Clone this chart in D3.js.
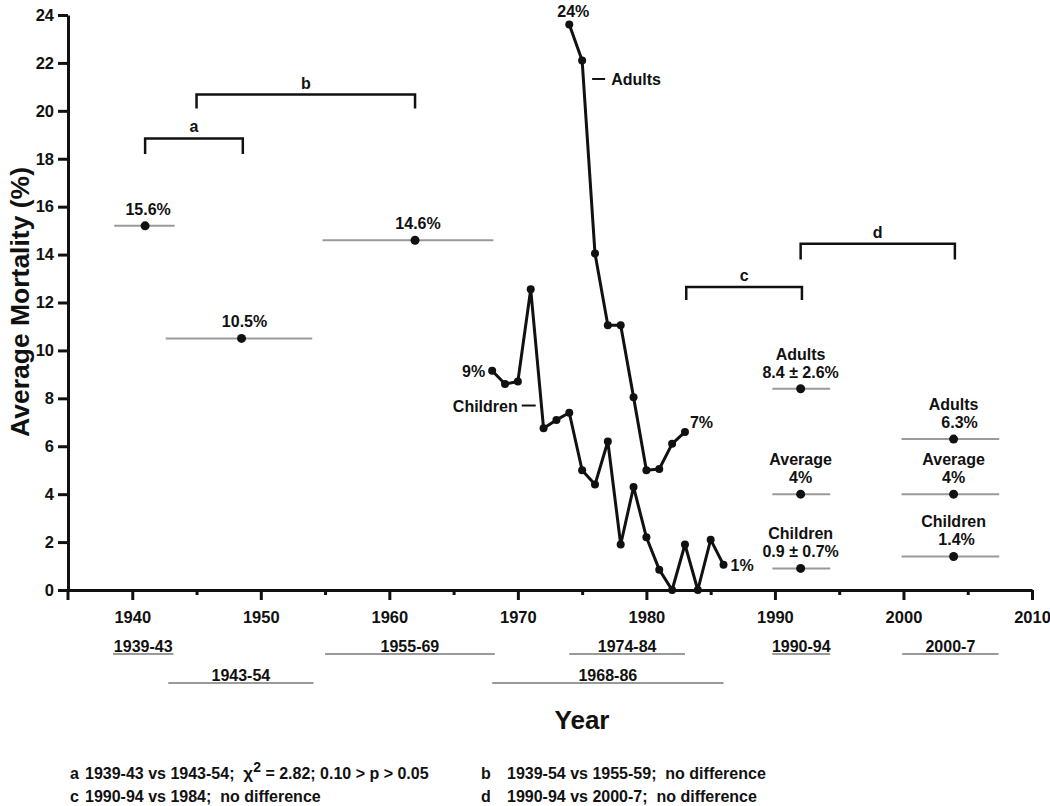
<!DOCTYPE html>
<html>
<head>
<meta charset="utf-8">
<script src="https://cdn.jsdelivr.net/npm/d3@7"></script>
<style>
  html, body { margin: 0; padding: 0; background: #fff; }
  svg { display: block; font-family: "Liberation Sans", Arial, Helvetica, sans-serif; font-weight: bold; }
</style>
</head>
<body>
<svg id="chart" width="1050" height="806"></svg>
<script>
// ---------- DATA ----------
const adultYears  = [1974, 1975, 1976, 1977, 1978, 1979, 1980, 1981, 1982, 1983];
const adultValues = [23.6, 22.1, 14.05, 11.05, 11.05, 8.05, 5.0, 5.05, 6.1, 6.6];

const childYears  = [1968, 1969, 1970, 1971, 1972, 1973, 1974, 1975, 1976, 1977, 1978, 1979, 1980, 1981, 1982, 1983, 1984, 1985, 1986];
const childValues = [9.15, 8.6, 8.7, 12.55, 6.75, 7.1, 7.4, 5.0, 4.4, 6.2, 1.9, 4.3, 2.2, 0.85, 0, 1.9, 0, 2.1, 1.05];

// early period means
const meanYears  = [1941, 1948.5, 1962];
const meanValues = [15.2, 10.5, 14.6];
const meanStart  = [1938.6, 1942.6, 1954.8];
const meanEnd    = [1943.3, 1954.0, 1968.1];
const meanLabels = ["15.6%", "10.5%", "14.6%"];

// recent period groups
const groupNames      = ["Adults", "Average", "Children"];
const p9094Year       = 1992;
const p9094Span       = [1989.8, 1994.3];
const p9094Values     = [8.4, 4.0, 0.9];
const p9094Labels     = ["8.4 \u00B1 2.6%", "4%", "0.9 \u00B1 0.7%"];
const p0007Year       = 2003.9;
const p0007Span       = [1999.85, 2007.45];
const p0007Values     = [6.3, 4.0, 1.4];
const p0007Labels     = ["6.3%", "4%", "1.4%"];

// period bars under the axis
const periodLabels = ["1939-43", "1943-54", "1955-69", "1968-86", "1974-84", "1990-94", "2000-7"];
const periodStart  = [1938.5, 1942.8, 1955.0, 1968.0, 1974.0, 1989.8, 1999.9];
const periodEnd    = [1943.2, 1954.1, 1968.2, 1986.0, 1983.0, 1994.3, 2007.4];
const periodRow    = [0, 1, 0, 1, 0, 0, 0];

// comparison brackets
const bracketNames = ["a", "b", "c", "d"];
const bracketFrom  = [1941, 1945, 1983.1, 1992];
const bracketTo    = [1948.6, 1962, 1992.1, 2004];
const bracketTop   = [18.85, 20.68, 12.65, 14.45];
const bracketFoot  = [18.2, 20.1, 12.1, 13.8];

// axis ticks
const yTicks      = [0, 2, 4, 6, 8, 10, 12, 14, 16, 18, 20, 22, 24];
const xMajorTicks = [1940, 1950, 1960, 1970, 1980, 1990, 2000, 2010];
const xMinorTicks = [1945, 1955, 1965, 1975, 1985, 1995, 2005];

// footnotes
const footnotes = [
  {key: "a", parts: ["1939-43 vs 1943-54;  ", "\u03C7", "2", " = 2.82; 0.10 > p > 0.05"]},
  {key: "b", parts: ["1939-54 vs 1955-59;  no difference"]},
  {key: "c", parts: ["1990-94 vs 1984;  no difference"]},
  {key: "d", parts: ["1990-94 vs 2000-7;  no difference"]}
];

// ---------- DRAW ----------
const svg = d3.select("#chart");
const ink = "#111";
const grey = "#9a9a9a";
const FONT = "'Liberation Sans', Arial, sans-serif";

const x = d3.scaleLinear().domain([1935, 2010]).range([68, 1032]);
const y = d3.scaleLinear().domain([0, 24]).range([590, 15]);

// Y axis
const yAxis = svg.append("g").attr("transform", `translate(${x(1935)},0)`)
  .call(d3.axisLeft(y).tickValues(yTicks).tickSize(10).tickSizeOuter(0).tickPadding(4));
yAxis.select(".domain").attr("stroke", ink).attr("stroke-width", 3);
yAxis.selectAll(".tick line").attr("stroke", ink).attr("stroke-width", 3);
yAxis.selectAll(".tick text").attr("fill", ink).style("font-size", "16.5px").style("font-weight", "bold")
  .style("font-family", FONT);

// X axis
const xAxis = svg.append("g").attr("transform", `translate(0,${y(0)})`)
  .call(d3.axisBottom(x).tickValues(xMajorTicks).tickFormat(d3.format("d")).tickSize(10).tickSizeOuter(0).tickPadding(11));
xAxis.select(".domain").attr("stroke", ink).attr("stroke-width", 3);
xAxis.selectAll(".tick line").attr("stroke", ink).attr("stroke-width", 3);
xAxis.selectAll(".tick text").attr("fill", ink).style("font-size", "16.5px").style("font-weight", "bold")
  .style("font-family", FONT);
const xMinor = svg.append("g").attr("transform", `translate(0,${y(0)})`)
  .call(d3.axisBottom(x).tickValues(xMinorTicks).tickFormat("").tickSize(5).tickSizeOuter(0));
xMinor.select(".domain").remove();
xMinor.selectAll(".tick line").attr("stroke", ink).attr("stroke-width", 3);
// extension of y axis below the x axis
svg.append("line").attr("x1", x(1935)).attr("x2", x(1935)).attr("y1", y(0)).attr("y2", y(0) + 10)
  .attr("stroke", ink).attr("stroke-width", 3);

// Axis titles
svg.append("text").attr("x", 582).attr("y", 729).attr("text-anchor", "middle")
  .style("font-size", "26px").attr("fill", ink).text("Year");
svg.append("text").attr("transform", "translate(29,302) rotate(-90)").attr("text-anchor", "middle")
  .style("font-size", "26.5px").attr("fill", ink).text("Average Mortality (%)");

// Early period means
meanYears.forEach((yr, i) => {
  svg.append("line").attr("x1", x(meanStart[i])).attr("x2", x(meanEnd[i]))
    .attr("y1", y(meanValues[i])).attr("y2", y(meanValues[i]))
    .attr("stroke", grey).attr("stroke-width", 2);
  svg.append("circle").attr("cx", x(yr)).attr("cy", y(meanValues[i])).attr("r", 4.5).attr("fill", ink);
  svg.append("text").attr("x", x(yr) + 3).attr("y", y(meanValues[i]) - 11).attr("text-anchor", "middle")
    .style("font-size", "16px").attr("fill", ink).text(meanLabels[i]);
});

// Recent period groups
function drawGroup(yr, span, values, labels, dx) {
  values.forEach((v, i) => {
    svg.append("line").attr("x1", x(span[0])).attr("x2", x(span[1]))
      .attr("y1", y(v)).attr("y2", y(v)).attr("stroke", grey).attr("stroke-width", 2);
    svg.append("circle").attr("cx", x(yr)).attr("cy", y(v)).attr("r", 4.5).attr("fill", ink);
    svg.append("text").attr("x", x(yr)).attr("y", y(v) - 29).attr("text-anchor", "middle")
      .style("font-size", "16px").attr("fill", ink).text(groupNames[i]);
    svg.append("text").attr("x", x(yr) + dx[i]).attr("y", y(v) - 11).attr("text-anchor", "middle")
      .style("font-size", "16px").attr("fill", ink).text(labels[i]);
  });
}
drawGroup(p9094Year, p9094Span, p9094Values, p9094Labels, [0, 0, 0]);
drawGroup(p0007Year, p0007Span, p0007Values, p0007Labels, [6, 0, 3]);

// Lines
const line = d3.line().x(d => x(d[0])).y(d => y(d[1]));
const adultPts = adultYears.map((yr, i) => [yr, adultValues[i]]);
const childPts = childYears.map((yr, i) => [yr, childValues[i]]);
[adultPts, childPts].forEach(pts => {
  svg.append("path").datum(pts).attr("d", line).attr("fill", "none")
    .attr("stroke", ink).attr("stroke-width", 3).attr("stroke-linejoin", "round");
  svg.selectAll(null).data(pts).enter().append("circle")
    .attr("cx", d => x(d[0])).attr("cy", d => y(d[1])).attr("r", 4).attr("fill", ink);
});

// Series annotations
const a0 = adultPts[0], aN = adultPts[adultPts.length - 1];
const c0 = childPts[0], cN = childPts[childPts.length - 1];
svg.append("text").attr("x", x(a0[0]) + 4).attr("y", y(a0[1]) - 8).attr("text-anchor", "middle")
  .style("font-size", "16px").attr("fill", ink).text("24%");
svg.append("text").attr("x", x(aN[0]) + 5).attr("y", y(aN[1]) - 4).attr("text-anchor", "start")
  .style("font-size", "16px").attr("fill", ink).text("7%");
svg.append("text").attr("x", x(c0[0]) - 7).attr("y", y(c0[1]) + 6).attr("text-anchor", "end")
  .style("font-size", "16px").attr("fill", ink).text("9%");
svg.append("text").attr("x", x(cN[0]) + 7).attr("y", y(cN[1]) + 6).attr("text-anchor", "start")
  .style("font-size", "16px").attr("fill", ink).text("1%");
// "— Adults"
svg.append("line").attr("x1", x(1975) + 10).attr("x2", x(1975) + 23).attr("y1", y(21.33)).attr("y2", y(21.33))
  .attr("stroke", ink).attr("stroke-width", 2);
svg.append("text").attr("x", x(1975) + 29).attr("y", y(21.33) + 6).style("font-size", "16px").attr("fill", ink).text("Adults");
// "Children —"
svg.append("line").attr("x1", x(1971) - 9).attr("x2", x(1971) + 5).attr("y1", y(7.7)).attr("y2", y(7.7))
  .attr("stroke", ink).attr("stroke-width", 2);
svg.append("text").attr("x", x(1971) - 13).attr("y", y(7.7) + 6).attr("text-anchor", "end")
  .style("font-size", "16px").attr("fill", ink).text("Children");

// Brackets
bracketNames.forEach((nm, i) => {
  const x1 = x(bracketFrom[i]), x2 = x(bracketTo[i]);
  const yt = y(bracketTop[i]), yf = y(bracketFoot[i]);
  svg.append("path").attr("d", `M${x1},${yf}V${yt}H${x2}V${yf}`).attr("fill", "none")
    .attr("stroke", ink).attr("stroke-width", 2.5);
  svg.append("text").attr("x", (x1 + x2) / 2).attr("y", yt - 6).attr("text-anchor", "middle")
    .style("font-size", "16px").attr("fill", ink).text(nm);
});

// Period bars under axis
const rowLineY = [654, 683];
periodLabels.forEach((lab, i) => {
  const ly = rowLineY[periodRow[i]];
  svg.append("line").attr("x1", x(periodStart[i])).attr("x2", x(periodEnd[i])).attr("y1", ly).attr("y2", ly)
    .attr("stroke", grey).attr("stroke-width", 2);
  svg.append("text").attr("x", (x(periodStart[i]) + x(periodEnd[i])) / 2).attr("y", ly - 2.5)
    .attr("text-anchor", "middle").style("font-size", "16px").attr("fill", ink).text(lab);
});

// Footnotes
const fnX = [70, 481, 70, 481];
const fnY = [779, 779, 802, 802];
const fnGap = [15, 26, 15, 26];
footnotes.forEach((fn, i) => {
  svg.append("text").attr("x", fnX[i]).attr("y", fnY[i]).style("font-size", "16px").attr("fill", ink).text(fn.key);
  const t = svg.append("text").attr("x", fnX[i] + fnGap[i]).attr("y", fnY[i]).style("font-size", "16px")
    .attr("fill", ink).attr("xml:space", "preserve").style("white-space", "pre");
  if (fn.parts.length === 1) {
    t.text(fn.parts[0]);
  } else {
    t.append("tspan").text(fn.parts[0]);
    t.append("tspan").style("font-size", "17px").text(fn.parts[1]);
    t.append("tspan").attr("dy", -7).style("font-size", "14px").text(fn.parts[2]);
    t.append("tspan").attr("dy", 7).text(fn.parts[3]);
  }
});
</script>
</body>
</html>
